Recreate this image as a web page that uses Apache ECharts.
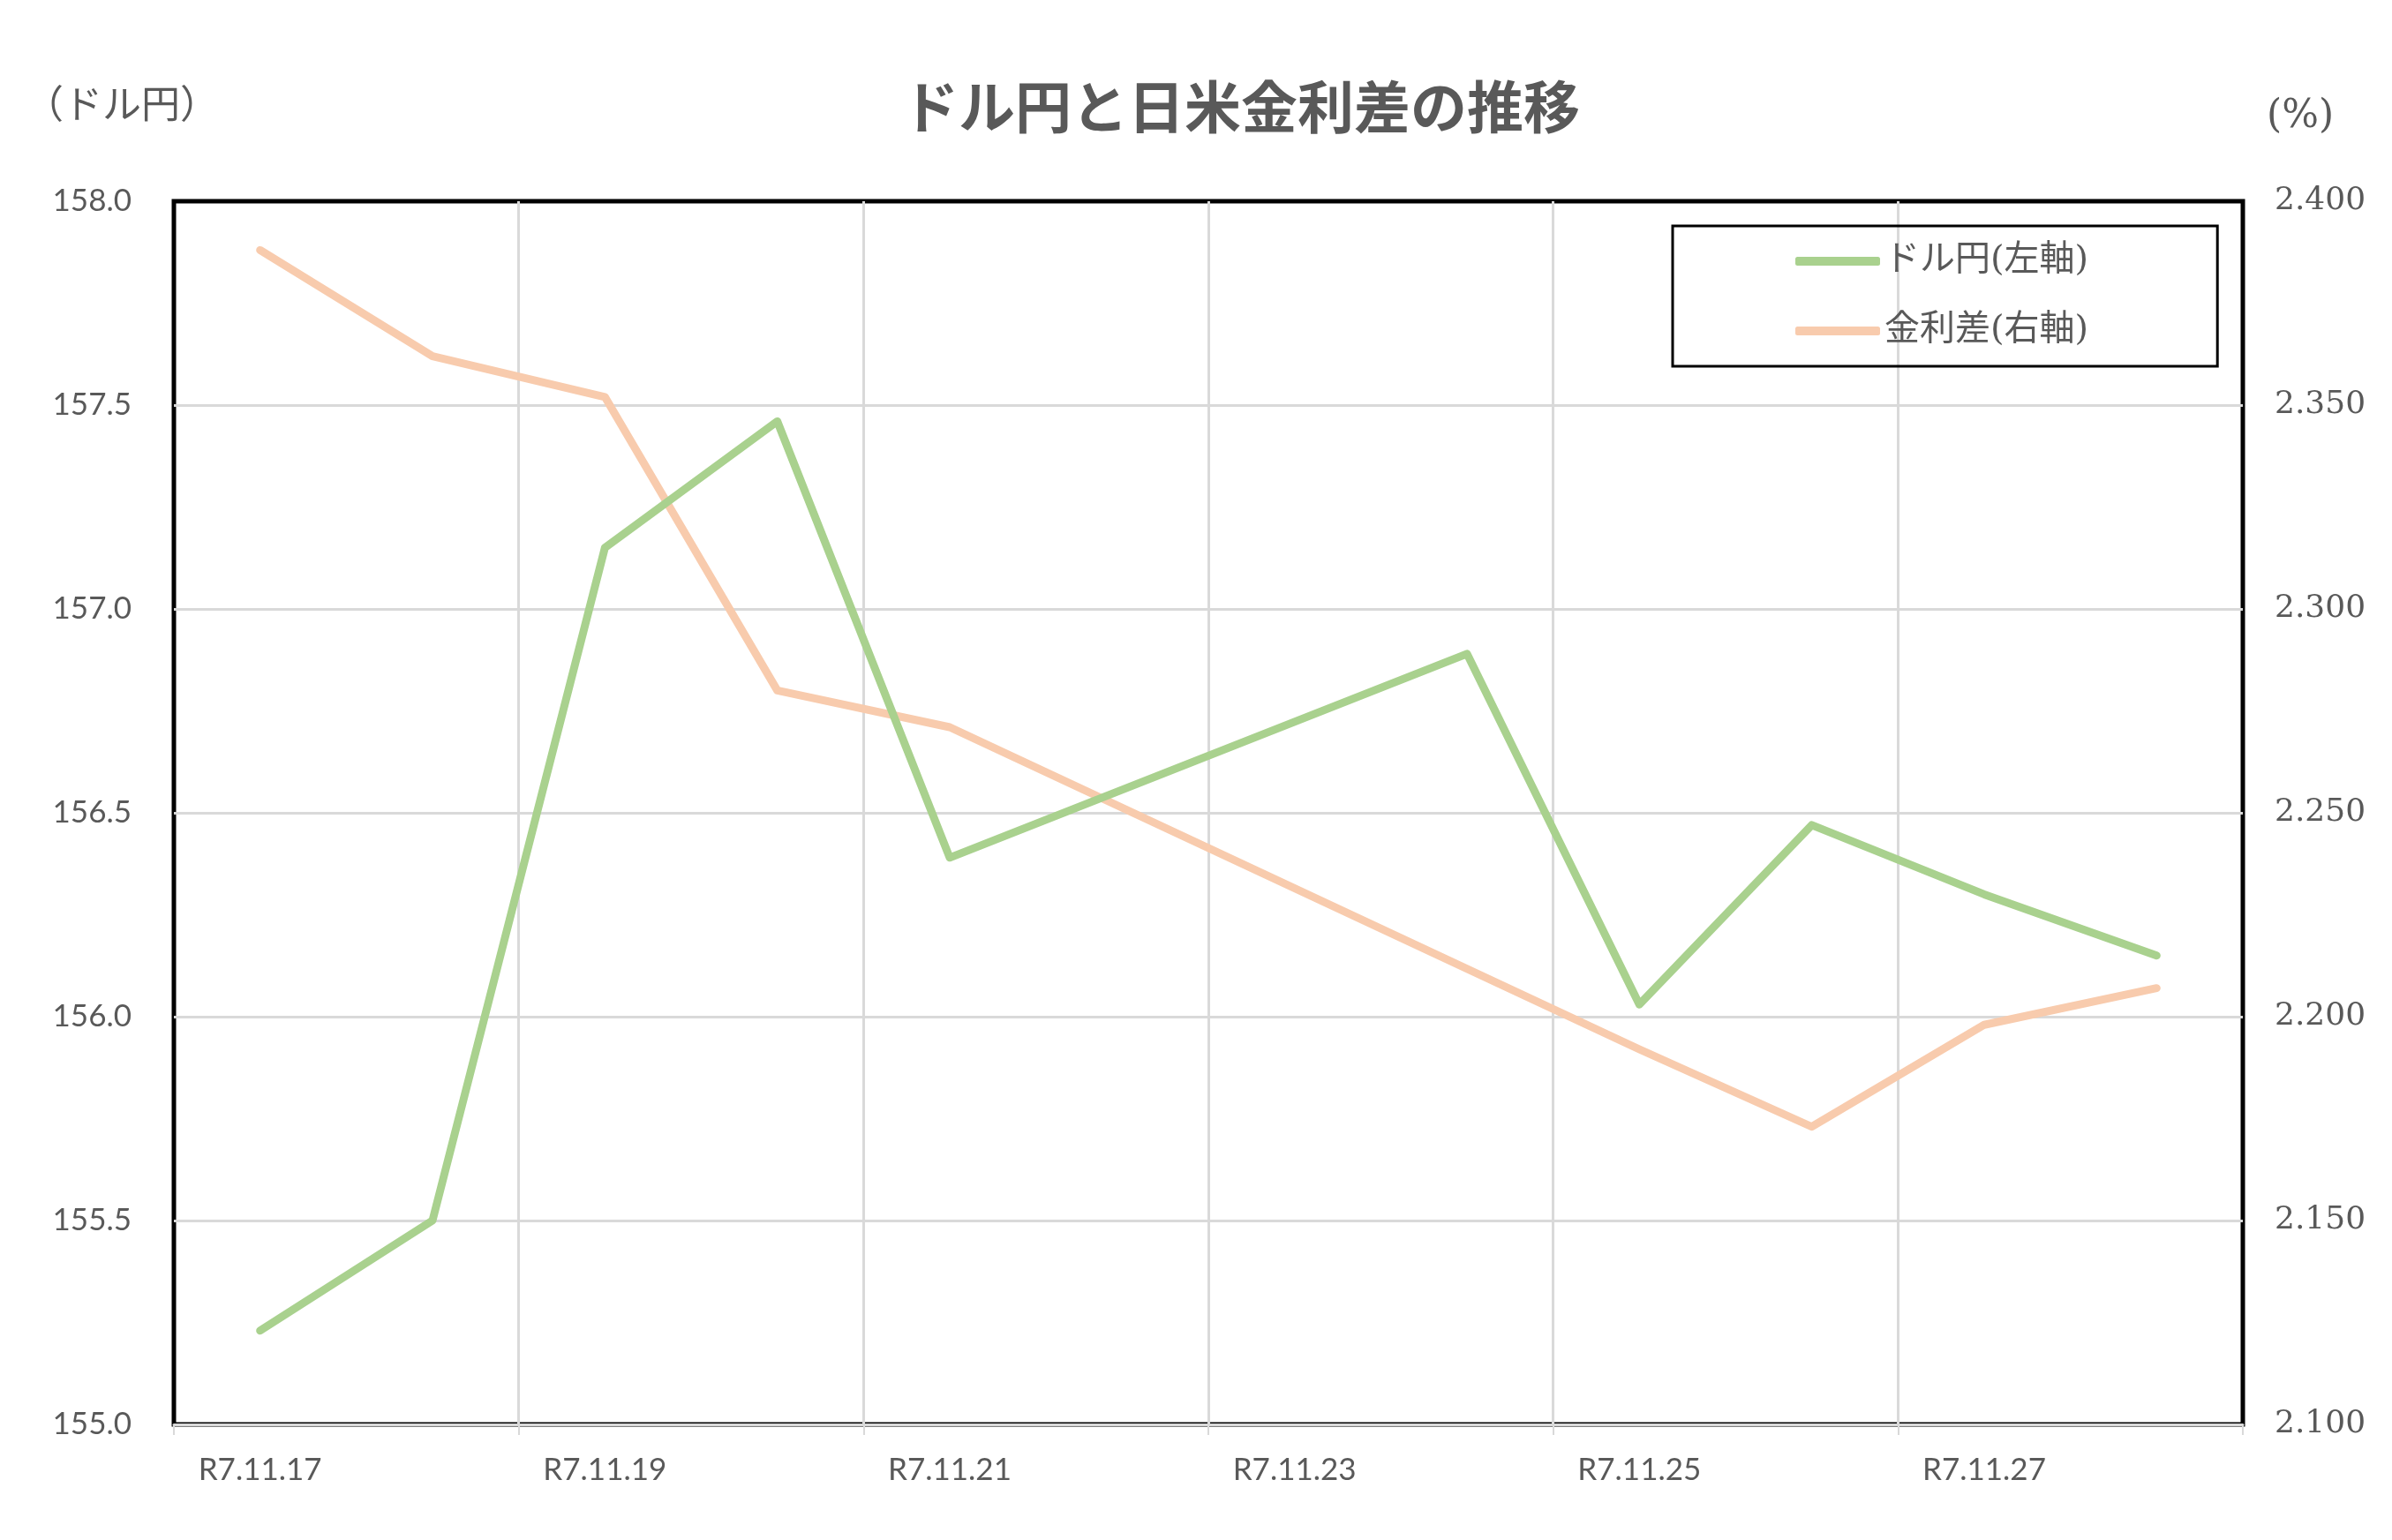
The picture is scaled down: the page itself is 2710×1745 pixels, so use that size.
<!DOCTYPE html>
<html>
<head>
<meta charset="utf-8">
<script src="https://cdn.jsdelivr.net/npm/echarts@6/dist/echarts.min.js"></script>
<style>
html,body{margin:0;padding:0;background:#fff;}
#chart{width:2710px;height:1745px;}
</style>
</head>
<body>
<div id="chart"></div>
<script>
// ---- data ----
const titleText = 'ドル円と日米金利差の推移';
const leftAxisTitle = '（ドル円）';
const rightAxisTitle = '(%)';
const categories = ['R7.11.17','R7.11.18','R7.11.19','R7.11.20','R7.11.21','R7.11.22','R7.11.23','R7.11.24','R7.11.25','R7.11.26','R7.11.27','R7.11.28'];
const seriesNames = ['ドル円(左軸)', '金利差(右軸)'];
const usdJpy = [155.23, 155.50, 157.15, 157.46, 156.39, null, null, 156.89, 156.03, 156.47, 156.30, 156.15];
const rateSpread = [2.388, 2.362, 2.352, 2.280, 2.271, null, null, null, 2.192, 2.173, 2.198, 2.207];
const leftAxisRange = [155.0, 158.0, 0.5];
const rightAxisRange = [2.1, 2.4, 0.05];

// ---- chart ----
const chart = echarts.init(document.getElementById('chart'), null, {renderer: 'canvas'});
const gray = '#595959';
const gridGray = '#d9d9d9';
const sansNum = 'Lato';
const serifJP = '"DejaVu Serif", "Noto Sans CJK JP"';

const option = {
  animation: false,
  backgroundColor: '#ffffff',
  title: {
    text: titleText,
    left: 1017,
    top: 84,
    textStyle: {fontSize: 64, fontWeight: 'bold', color: gray, fontFamily: 'Noto Sans CJK JP'}
  },
  graphic: [
    {type: 'text', left: 28, top: 95, style: {text: leftAxisTitle, fontSize: 44, fill: gray, fontFamily: 'Noto Sans CJK JP'}},
    {type: 'text', left: 2568, top: 111, style: {text: rightAxisTitle, fontSize: 44, fill: gray, fontFamily: serifJP}}
  ],
  legend: {
    orient: 'vertical',
    left: 1895,
    top: 256,
    padding: [20, 146, 20, 139],
    borderColor: '#000',
    borderWidth: 3,
    itemWidth: 96,
    itemHeight: 10,
    itemGap: 39,
    icon: 'roundRect',
    textStyle: {fontSize: 40, color: gray, fontFamily: serifJP},
    data: seriesNames
  },
  grid: {
    left: 197, right: 169, top: 228, bottom: 131,
    show: true, borderColor: '#000', borderWidth: 5, backgroundColor: 'transparent',
    containLabel: false
  },
  xAxis: {
    type: 'category',
    data: categories,
    boundaryGap: true,
    axisLine: {show: true, lineStyle: {color: gridGray, width: 3}},
    axisTick: {show: true, interval: 1, length: 12, lineStyle: {color: gridGray, width: 2}},
    axisLabel: {interval: 1, margin: 34, fontSize: 35, color: gray, fontFamily: sansNum},
    splitLine: {show: true, interval: 1, showMinLine: false, showMaxLine: false, lineStyle: {color: gridGray, width: 3}}
  },
  yAxis: [
    {
      type: 'value',
      min: leftAxisRange[0], max: leftAxisRange[1], interval: leftAxisRange[2],
      axisLine: {show: false}, axisTick: {show: false},
      axisLabel: {margin: 48, fontSize: 35, color: gray, fontFamily: sansNum, formatter: v => v.toFixed(1)},
      splitLine: {show: true, showMinLine: false, showMaxLine: false, lineStyle: {color: gridGray, width: 3}}
    },
    {
      type: 'value',
      min: rightAxisRange[0], max: rightAxisRange[1], interval: rightAxisRange[2],
      axisLine: {show: false}, axisTick: {show: false},
      axisLabel: {margin: 36, align: 'left', fontSize: 36, color: gray, fontFamily: '"DejaVu Serif"', formatter: v => v.toFixed(3)},
      splitLine: {show: false}
    }
  ],
  series: [
    {
      name: seriesNames[0], type: 'line', yAxisIndex: 0, data: usdJpy,
      connectNulls: true, showSymbol: false, symbol: 'none',
      color: '#A9D18E',
      lineStyle: {color: '#A9D18E', width: 9, cap: 'round', join: 'round'},
      z: 3
    },
    {
      name: seriesNames[1], type: 'line', yAxisIndex: 1, data: rateSpread,
      connectNulls: true, showSymbol: false, symbol: 'none',
      color: '#F8CBAD',
      lineStyle: {color: '#F8CBAD', width: 9, cap: 'round', join: 'round'},
      z: 2
    }
  ]
};
chart.setOption(option);
</script>
</body>
</html>
